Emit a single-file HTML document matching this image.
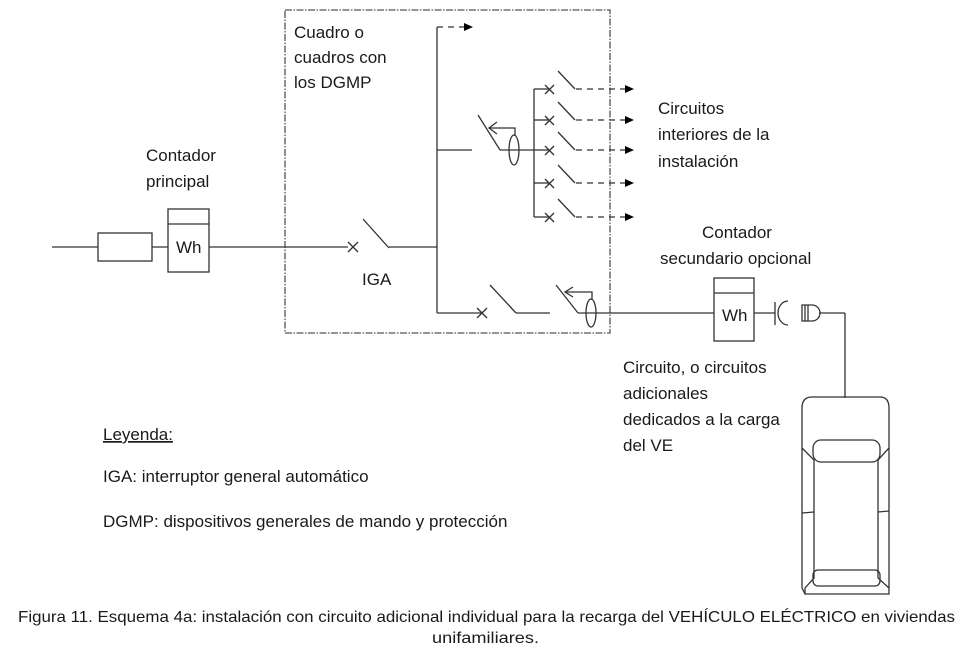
<!DOCTYPE html>
<html><head><meta charset="utf-8"><style>
html,body{margin:0;padding:0;background:#fff;}
svg{display:block;}
text{font-family:"Liberation Sans",sans-serif;fill:#1a1a1a;font-size:17px;}
</style></head><body>
<svg width="972" height="654" viewBox="0 0 972 654" xmlns="http://www.w3.org/2000/svg">
<g fill="none" stroke="#333" stroke-width="1.3">
<rect x="285" y="10" width="325" height="323" stroke-dasharray="7,1.5,1.5,1.5" stroke="#555"/>
<line x1="52" y1="247" x2="348" y2="247"/>
<rect x="98" y="233" width="54" height="28" fill="#fff"/>
<rect x="168" y="209" width="41" height="63" fill="#fff"/>
<line x1="168" y1="224" x2="209" y2="224"/>
<line x1="348" y1="242" x2="358" y2="252"/><line x1="348" y1="252" x2="358" y2="242"/>
<line x1="363" y1="219" x2="389" y2="248"/>
<line x1="389" y1="247" x2="437" y2="247"/>
<line x1="437" y1="27" x2="437" y2="313"/>
<line x1="437" y1="27" x2="464" y2="27" stroke-dasharray="6,5"/>
<line x1="437" y1="150" x2="472" y2="150"/>
<line x1="478" y1="115" x2="500" y2="150"/>
<line x1="500" y1="150" x2="534" y2="150"/>
<ellipse cx="514" cy="150" rx="5" ry="15"/>
<polyline points="515,136 515,128 490,128"/>
<polyline points="497,122 489,128 497,134"/>
<line x1="534" y1="89" x2="534" y2="217"/>
<g id="b1">
<line x1="534" y1="89" x2="549" y2="89"/>
<line x1="545" y1="85" x2="554" y2="94"/><line x1="545" y1="94" x2="554" y2="85"/>
<line x1="558" y1="71" x2="575" y2="89"/>
<line x1="576" y1="89" x2="625" y2="89" stroke-dasharray="6,5"/>
</g>
<use href="#b1" y="31"/>
<use href="#b1" y="61"/>
<use href="#b1" y="94"/>
<use href="#b1" y="128"/>
<line x1="437" y1="313" x2="482" y2="313"/>
<line x1="477" y1="308" x2="487" y2="318"/><line x1="477" y1="318" x2="487" y2="308"/>
<line x1="490" y1="285" x2="516" y2="313"/>
<line x1="516" y1="313" x2="550" y2="313"/>
<line x1="556" y1="285" x2="578" y2="313"/>
<line x1="578" y1="313" x2="714" y2="313"/>
<ellipse cx="591" cy="313" rx="5" ry="14"/>
<polyline points="592,300 592,292 566,292"/>
<polyline points="573,287 565,292 573,297"/>
<rect x="714" y="278" width="40" height="63" fill="#fff"/>
<line x1="714" y1="293" x2="754" y2="293"/>
<line x1="754" y1="313" x2="775" y2="313"/>
<line x1="775" y1="302" x2="775" y2="325"/>
<path d="M788,301 A10,12 0 0 0 788,325"/>
<path d="M802,305 L812,305 A8,8 0 0 1 812,321 L802,321 Z" fill="#fff"/>
<line x1="805" y1="305" x2="805" y2="321"/><line x1="808" y1="305" x2="808" y2="321"/>
<line x1="819" y1="313" x2="845" y2="313"/>
<line x1="845" y1="313" x2="845" y2="398"/>
<path d="M812,397 L880,397 Q889,397 889,408 L889,448 L878,460 L878,578 L889,588 L889,594 L805,594 L805,588 L814,578 L814,460 L802,448 L802,408 Q802,397 812,397 Z"/>
<line x1="802" y1="448" x2="802" y2="588"/><line x1="889" y1="448" x2="889" y2="588"/>
<line x1="802" y1="588" x2="805" y2="594"/>
<rect x="813" y="440" width="67" height="22" rx="8"/>
<rect x="813" y="570" width="67" height="16" rx="5"/>
<line x1="802" y1="513" x2="814" y2="512"/><line x1="878" y1="512" x2="889" y2="511"/>
</g>
<g fill="#000">
<polygon points="464,23 473,27 464,31"/>
<polygon points="625,85 634,89 625,93"/>
<polygon points="625,116 634,120 625,124"/>
<polygon points="625,146 634,150 625,154"/>
<polygon points="625,179 634,183 625,187"/>
<polygon points="625,213 634,217 625,221"/>
</g>
<text x="294" y="38">Cuadro o</text>
<text x="294" y="63">cuadros con</text>
<text x="294" y="88">los DGMP</text>
<text x="146" y="161">Contador</text>
<text x="146" y="187">principal</text>
<text x="176" y="253">Wh</text>
<text x="362" y="285">IGA</text>
<text x="658" y="114">Circuitos</text>
<text x="658" y="140">interiores de la</text>
<text x="658" y="167">instalación</text>
<text x="702" y="238">Contador</text>
<text x="660" y="264">secundario opcional</text>
<text x="722" y="321">Wh</text>
<text x="623" y="373">Circuito, o circuitos</text>
<text x="623" y="399">adicionales</text>
<text x="623" y="425">dedicados a la carga</text>
<text x="623" y="451">del VE</text>
<text x="103" y="440" text-decoration="underline">Leyenda:</text>
<text x="103" y="482">IGA: interruptor general automático</text>
<text x="103" y="527">DGMP: dispositivos generales de mando y protección</text>
<text x="18" y="622" textLength="937" lengthAdjust="spacingAndGlyphs" style="font-size:16px">Figura 11. Esquema 4a: instalación con circuito adicional individual para la recarga del VEHÍCULO ELÉCTRICO en viviendas</text>
<text x="432" y="643" textLength="107" lengthAdjust="spacingAndGlyphs" style="font-size:16px">unifamiliares.</text>
</svg>
</body></html>
